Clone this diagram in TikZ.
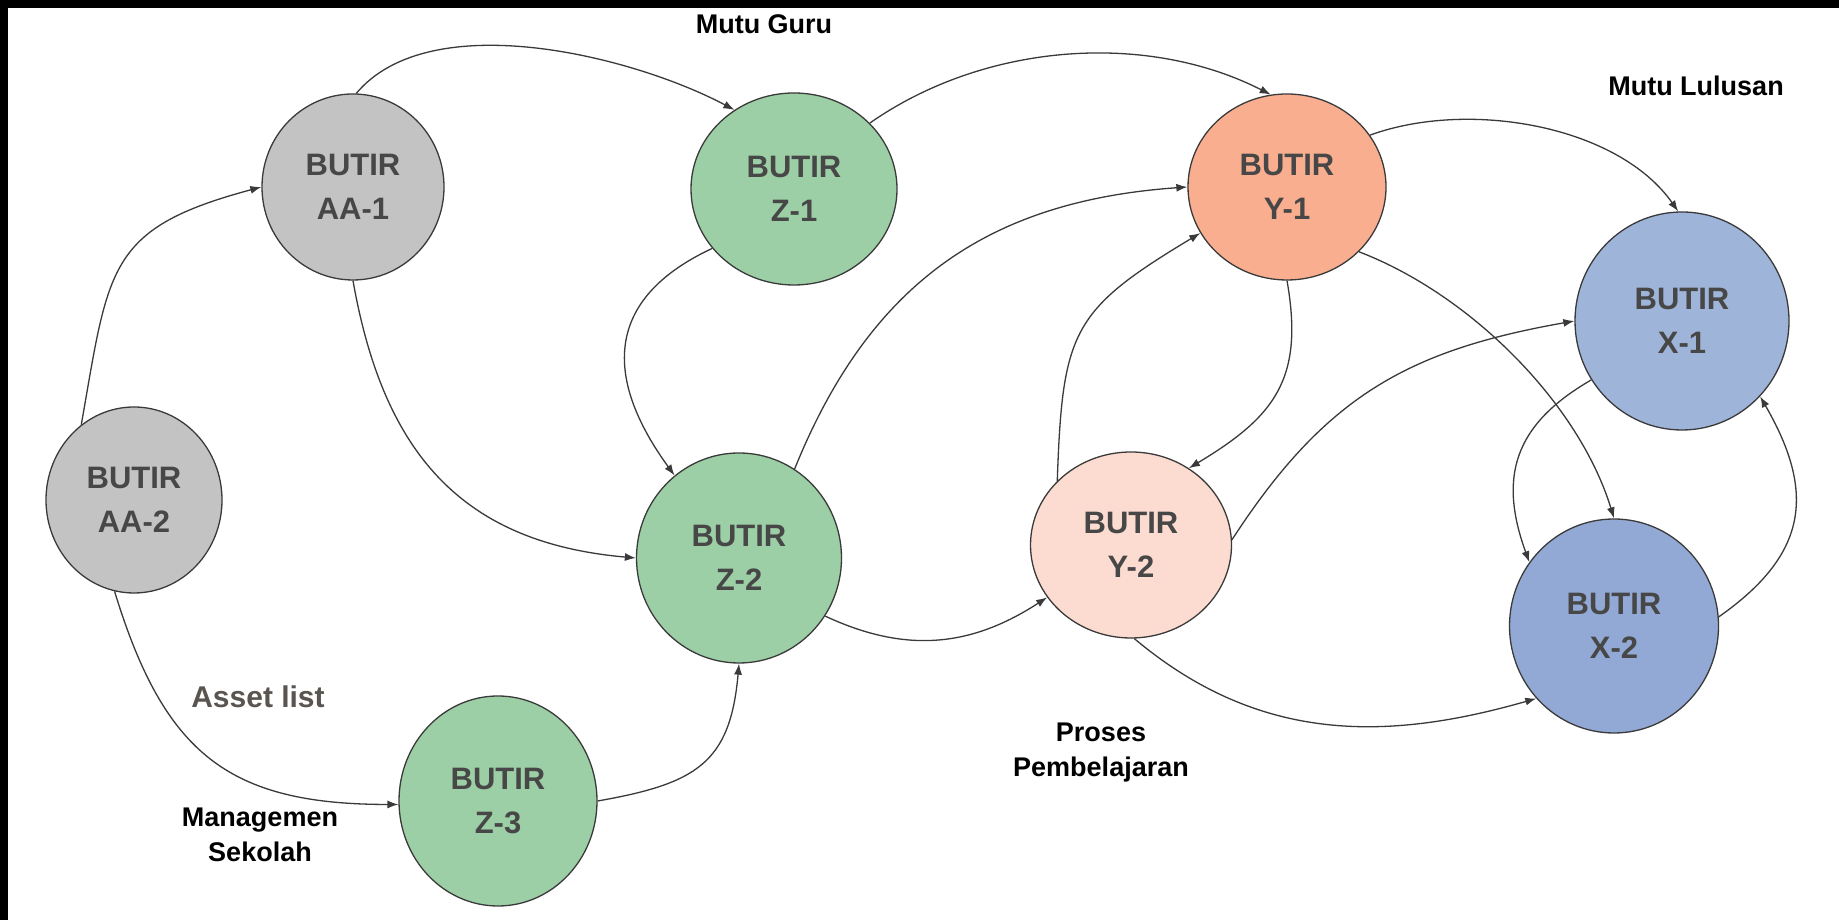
\documentclass[tikz,border=0pt]{standalone}
\usepackage{fontspec}
\setmainfont{Liberation Sans}
\usetikzlibrary{shapes.geometric,arrows.meta}
\definecolor{cgray}{HTML}{C3C3C3}
\definecolor{cgreen}{HTML}{9DCFA6}
\definecolor{csalmon}{HTML}{F9AF8F}
\definecolor{cpink}{HTML}{FCDCD1}
\definecolor{cblueA}{HTML}{9FB4D9}
\definecolor{cblueB}{HTML}{93A9D5}
\definecolor{cedge}{HTML}{3A3A3A}
\definecolor{ctext}{HTML}{474747}
\definecolor{clabel}{HTML}{5A5550}
\begin{document}
\begin{tikzpicture}[x=1pt,y=1pt,
  butir/.style={ellipse, draw=cedge, line width=1.3pt, inner sep=0pt, text=ctext,
    font=\fontsize{31}{44}\selectfont\bfseries, align=center, text depth=0pt},
  lbl/.style={font=\fontsize{27}{35}\selectfont\bfseries, align=center, text depth=0pt, inner sep=0pt},
  conn/.style={draw=cedge, line width=1.3pt, -{Latex[length=11pt,width=8pt]}}
]
\useasboundingbox (0,0) rectangle (1839,920);
\fill[white] (0,0) rectangle (1839,920);
\fill[black] (0,912) rectangle (1839,920);
\fill[black] (0,0) rectangle (8,920);

\node[butir, fill=cgray, minimum width=182pt, minimum height=186pt] (aa1) at (353,733) {BUTIR\\AA-1};
\node[butir, fill=cgray, minimum width=176pt, minimum height=186pt] (aa2) at (134,420) {BUTIR\\AA-2};
\node[butir, fill=cgreen, minimum width=206pt, minimum height=192pt] (z1) at (794,731) {BUTIR\\Z-1};
\node[butir, fill=cgreen, minimum width=205pt, minimum height=210pt] (z2) at (739,362) {BUTIR\\Z-2};
\node[butir, fill=cgreen, minimum width=198pt, minimum height=210pt] (z3) at (498,119) {BUTIR\\Z-3};
\node[butir, fill=csalmon, minimum width=198pt, minimum height=186pt] (y1) at (1287,733) {BUTIR\\Y-1};
\node[butir, fill=cpink, minimum width=201pt, minimum height=186pt] (y2) at (1131,375) {BUTIR\\Y-2};
\node[butir, fill=cblueA, minimum width=214pt, minimum height=218pt] (x1) at (1682,599) {BUTIR\\X-1};
\node[butir, fill=cblueB, minimum width=209pt, minimum height=214pt] (x2) at (1614,294) {BUTIR\\X-2};

\draw[conn] (aa2.125) to[out=80,in=195,distance=160pt] (aa1.180);
\draw[conn] (aa1.88) to[out=50,in=152,distance=115pt] (z1.127);
\draw[conn] (z1.41) to[out=35,in=153,distance=140pt] (y1.100);
\draw[conn] (y1.32) to[out=20,in=125,distance=105pt] (x1.92);
\draw[conn] (z1.216) to[out=205,in=126,distance=120pt] (z2.128);
\draw[conn] (aa1.270) to[out=280,in=175,distance=175pt] (z2.180);
\draw[conn] (aa2.258) to[out=287,in=180,distance=170pt] (z3.182);
\draw[conn] (z3.0) to[out=10,in=265,distance=100pt] (z2.270);
\draw[conn] (z2.58) to[out=68,in=184,distance=200pt] (y1.180);
\draw[conn] (z2.326) to[out=335,in=213,distance=90pt] (y2.212);
\draw[conn] (y2.139) to[out=88,in=211,distance=150pt] (y1.208);
\draw[conn] (y1.270) to[out=280,in=31,distance=100pt] (y2.53);
\draw[conn] (y1.318) to[out=339,in=107,distance=120pt] (x2.90);
\draw[conn] (y2.3) to[out=57,in=190,distance=170pt] (x1.180);
\draw[conn] (y2.272) to[out=320,in=196,distance=160pt] (x2.223);
\draw[conn] (x1.213) to[out=210,in=110,distance=90pt] (x2.143);
\draw[conn] (x2.5) to[out=35,in=300,distance=110pt] (x1.316);

\node[lbl] (mg) at (764,896) {Mutu Guru};
\node[lbl] (ml) at (1696,834) {Mutu Lulusan};
\node[lbl, text=clabel, font=\fontsize{30}{36}\selectfont\bfseries] (al) at (258,223) {Asset list};
\node[lbl] (ms) at (260,85) {Managemen\\Sekolah};
\node[lbl] (pp) at (1101,170) {Proses\\Pembelajaran};
\end{tikzpicture}
\end{document}
